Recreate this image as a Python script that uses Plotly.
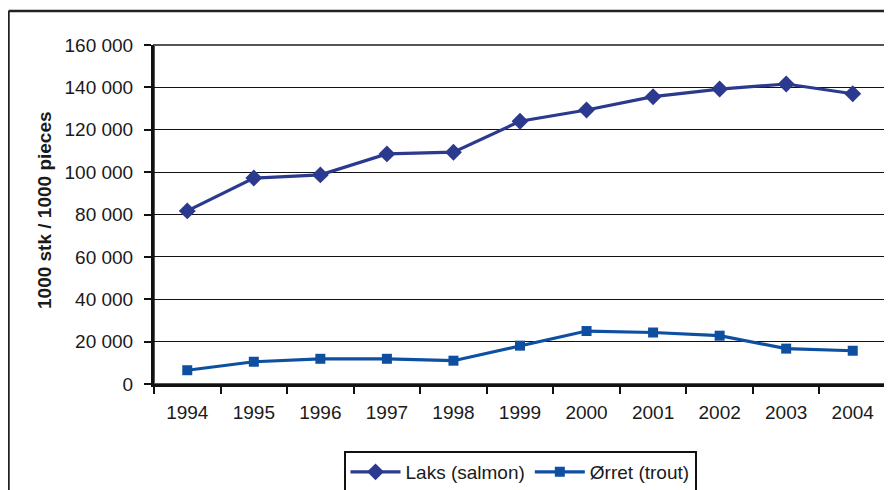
import plotly.graph_objects as go

years = ["1994", "1995", "1996", "1997", "1998", "1999", "2000", "2001", "2002", "2003", "2004"]
laks = [81700, 97200, 98700, 108600, 109400, 124000, 129300, 135600, 139200, 141600, 137000]
orret = [6500, 10500, 11900, 11900, 11000, 18100, 25000, 24300, 22800, 16700, 15700]
y_ticks = [0, 20000, 40000, 60000, 80000, 100000, 120000, 140000, 160000]

# page body has an 8px margin: figure coordinates are window coordinates minus 8
OFF = 8
W, H = 892 - OFF, 490 - OFF
L, R, T, B = 154 - OFF, 6, 45 - OFF, 106
pw, ph = W - L - R, H - T - B

def px_x(p):
    return (p - OFF - L) / pw

def px_y(p):
    return (H - B - (p - OFF)) / ph

fig = go.Figure()
fig.add_trace(go.Scatter(
    x=years, y=laks, name="Laks (salmon)", mode="lines+markers",
    line=dict(color="#2B3A8E", width=3.2),
    marker=dict(symbol="diamond", size=13, color="#2B3A8E"),
))
fig.add_trace(go.Scatter(
    x=years, y=orret, name="Ørret (trout)", mode="lines+markers",
    line=dict(color="#0F4FA2", width=3.2),
    marker=dict(symbol="square", size=10, color="#0F4FA2"),
))

font_family = "Liberation Sans, Arial, sans-serif"

fig.update_layout(
    width=W, height=H,
    margin=dict(l=L, r=R, t=T, b=B, autoexpand=False),
    paper_bgcolor="white", plot_bgcolor="white",
    font=dict(family=font_family, size=19, color="#1a1a1a"),
    separators=", ",
    showlegend=True,
    legend=dict(
        orientation="h", x=px_x(520), xanchor="center",
        y=px_y(451), yanchor="top",
        bordercolor="#111", borderwidth=2,
        font=dict(size=19), itemwidth=50,
    ),
    xaxis=dict(
        type="category", range=[-0.5, 10.5],
        showline=True, linecolor="#111", linewidth=3,
        ticks="outside", ticklen=7, tickwidth=1.5, tickcolor="#111",
        tickson="boundaries", showgrid=False, zeroline=False,
        ticklabelstandoff=9,
    ),
    yaxis=dict(
        range=[0, 160000], tickvals=y_ticks, tickformat=",d",
        showline=True, linecolor="#111", linewidth=3,
        ticks="outside", ticklen=7, tickwidth=1.5, tickcolor="#111",
        showgrid=True, gridcolor="#111", gridwidth=1, zeroline=False,
        ticklabelstandoff=7,
    ),
    shapes=[
        dict(type="rect", xref="paper", yref="paper", x0=0, x1=1, y0=0, y1=1,
             line=dict(color="#555", width=2), layer="below"),
        dict(type="line", xref="paper", yref="paper",
             x0=px_x(8.5), x1=px_x(8.5), y0=px_y(11), y1=px_y(500),
             line=dict(color="#222", width=2.5)),
        dict(type="line", xref="paper", yref="paper",
             x0=px_x(8.5), x1=px_x(900), y0=px_y(11), y1=px_y(11),
             line=dict(color="#222", width=2.5)),
    ],
    annotations=[
        dict(text="<b>1000 stk / 1000 pieces</b>", xref="paper", yref="paper",
             x=px_x(44), y=px_y(210), xanchor="center", yanchor="middle",
             textangle=-90, showarrow=False, font=dict(size=19, color="#1a1a1a")),
    ],
)

fig.write_html("out.html")
